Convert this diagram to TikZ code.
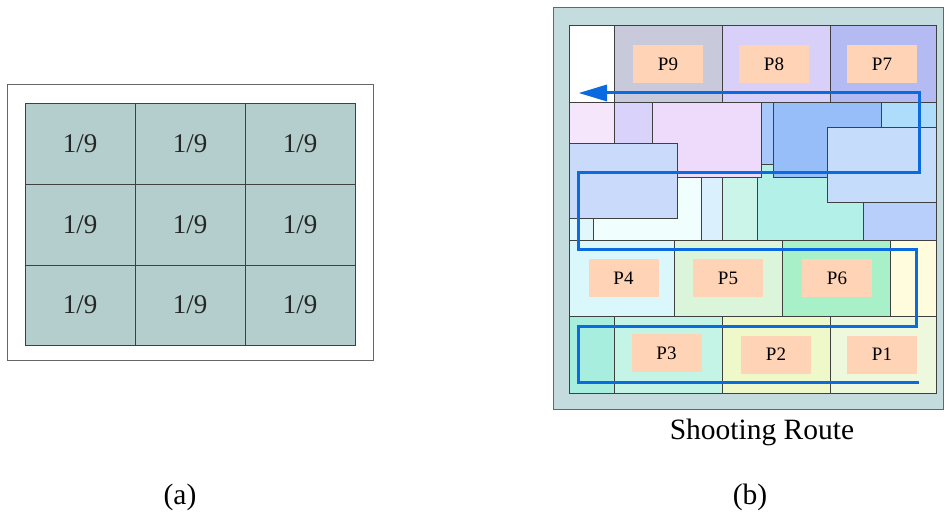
\documentclass[tikz,border=0pt]{standalone}
\usepackage{fontspec}
\setmainfont{Liberation Serif}
\definecolor{gridfill}{HTML}{B3CECC}
\definecolor{bgb}{HTML}{C5DCDF}
\definecolor{pfill}{HTML}{FFD3B6}
\definecolor{route}{HTML}{0A6ADF}
\begin{document}
\begin{tikzpicture}[x=1pt,y=-1pt,
  cell/.style={draw=black!75,line width=0.8pt},
  frame/.style={draw=black!60,line width=1pt},
  ninth/.style={font=\fontsize{27}{30}\selectfont,text=black!85},
  pbox/.style={fill=pfill,minimum width=70pt,minimum height=38pt,inner sep=0pt,font=\fontsize{19}{22}\selectfont},
  caption/.style={font=\fontsize{29.5}{34}\selectfont},
  routeline/.style={draw=route,line width=3pt}]
\useasboundingbox (0,0) rectangle (944,516);
% ---------- (a) ----------
\draw[frame,fill=white] (7,85) rectangle (373,360);
\foreach \c/\xa/\xb in {0/25/135,1/135/245,2/245/355}{
  \foreach \r/\ya/\yb in {0/103/184,1/184/265,2/265/345}{
    \draw[cell,fill=gridfill] (\xa,\ya) rectangle (\xb,\yb);
    \node[ninth] (g\c\r) at ({(\xa+\xb)/2},{(\ya+\yb)/2}) {1/9};
  }
}
\node[caption] (capa) at (180,497) {(a)};
% ---------- (b) ----------
\draw[frame,fill=bgb] (553,8) rectangle (943.5,409);
% top row
\draw[cell,fill=white] (569,25) rectangle (614,102);
\draw[cell,fill={rgb,255:red,201;green,201;blue,220}] (614,25) rectangle (722,102);
\draw[cell,fill={rgb,255:red,217;green,208;blue,250}] (722,25) rectangle (830,102);
\draw[cell,fill={rgb,255:red,179;green,187;blue,242}] (830,25) rectangle (936,102);
\node[pbox] (p9) at (668,64) {P9};
\node[pbox] (p8) at (774,64) {P8};
\node[pbox] (p7) at (882,64) {P7};
% middle band
\draw[cell,fill={rgb,255:red,245;green,230;blue,251}] (569,102) rectangle (614,143);
\draw[cell,fill={rgb,255:red,217;green,210;blue,250}] (614,102) rectangle (652,143);
\draw[cell,fill={rgb,255:red,224;green,248;blue,252}] (569,177) rectangle (593,240);
\draw[cell,fill={rgb,255:red,240;green,255;blue,253}] (593,177) rectangle (701,240);
\draw[cell,fill={rgb,255:red,218;green,240;blue,252}] (701,177) rectangle (722,240);
\draw[cell,fill={rgb,255:red,203;green,245;blue,232}] (722,177) rectangle (757,240);
\draw[cell,fill={rgb,255:red,178;green,240;blue,232}] (757,164) rectangle (863,240);
\draw[cell,fill={rgb,255:red,184;green,207;blue,251}] (863,177) rectangle (936,240);
\draw[cell,fill={rgb,255:red,238;green,219;blue,251}] (652,102) rectangle (761,177);
\draw[cell,fill={rgb,255:red,169;green,200;blue,250}] (761,102) rectangle (773,164);
\draw[cell,fill={rgb,255:red,152;green,190;blue,250}] (773,102) rectangle (881,177);
\draw[cell,fill={rgb,255:red,173;green,221;blue,250}] (881,102) rectangle (936,127);
\draw[cell,fill={rgb,255:red,197;green,221;blue,251}] (827,127) rectangle (936,202);
\draw[cell,fill={rgb,255:red,201;green,218;blue,251}] (569,143) rectangle (677,218);
% third row
\draw[cell,fill={rgb,255:red,218;green,247;blue,252}] (569,240) rectangle (674,316);
\draw[cell,fill={rgb,255:red,218;green,245;blue,218}] (674,240) rectangle (782,316);
\draw[cell,fill={rgb,255:red,168;green,240;blue,200}] (782,240) rectangle (890,316);
\draw[cell,fill={rgb,255:red,254;green,252;blue,220}] (890,240) rectangle (936,316);
\node[pbox] (p4) at (623.5,278) {P4};
\node[pbox] (p5) at (728,278) {P5};
\node[pbox] (p6) at (837,278) {P6};
% bottom row
\draw[cell,fill={rgb,255:red,168;green,238;blue,223}] (569,316) rectangle (614,393);
\draw[cell,fill={rgb,255:red,196;green,244;blue,230}] (614,316) rectangle (722,393);
\draw[cell,fill={rgb,255:red,238;green,248;blue,200}] (722,316) rectangle (830,393);
\draw[cell,fill={rgb,255:red,238;green,248;blue,220}] (830,316) rectangle (936,393);
\node[pbox] (p3) at (666.5,353) {P3};
\node[pbox] (p2) at (776,354.5) {P2};
\node[pbox] (p1) at (882,354.5) {P1};
% route
\coordinate (rs) at (919,382);
\coordinate (re) at (579,93);
\draw[routeline] (rs) -- (578,382) -- (578,326) -- (916,326) -- (916,249)
  -- (578,249) -- (578,172) -- (919,172) -- (919,93) -- (606,93);
\fill[route] (re) -- (607,84.5) -- (607,101.5) -- cycle;
\node[caption] (capr) at (762,432) {Shooting Route};
\node[caption] (capb) at (750,497) {(b)};
\end{tikzpicture}
\end{document}
